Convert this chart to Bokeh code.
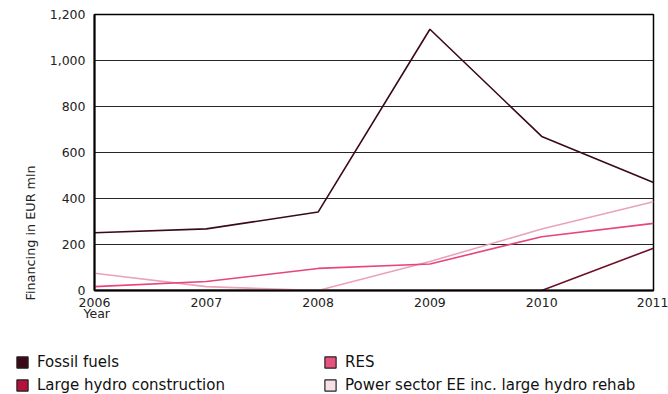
import math
from bokeh.plotting import figure
from bokeh.layouts import column, row
from bokeh.models import (ColumnDataSource, Legend, LegendItem, Title, FixedTicker,
                          NumeralTickFormatter, Range1d)
from bokeh.embed import file_html
from bokeh.resources import INLINE

years = [2006, 2007, 2008, 2009, 2010, 2011]
fossil = [251, 268, 341, 1136, 670, 470]
res = [17, 39, 96, 115, 234, 292]
large_hydro = [0, 0, 0, 0, 0, 184]
power_ee = [75, 17, 0, 126, 267, 386]

series_names = ["Fossil fuels", "RES", "Large hydro construction",
                "Power sector EE inc. large hydro rehab"]
FONT = "DejaVu Sans"

p = figure(width=668, height=330, output_backend="svg", toolbar_location=None,
           x_range=Range1d(2006, 2011), y_range=Range1d(0, 1200),
           min_border_left=94, min_border_right=15, min_border_top=14,
           min_border_bottom=40)
p.background_fill_color = "white"
p.border_fill_color = "white"
p.outline_line_color = "black"
p.outline_line_width = 1.5

src = ColumnDataSource(dict(year=years, fossil=fossil, res=res,
                            hydro=large_hydro, ee=power_ee))

p.line("year", "ee", source=src, line_color="#eba3b7", line_width=1.6)
p.line("year", "res", source=src, line_color="#e8457c", line_width=1.6)
p.line("year", "hydro", source=src, line_color="#6e1028", line_width=1.6)
p.line("year", "fossil", source=src, line_color="#3a0a18", line_width=1.6)

# axes
p.xaxis.ticker = FixedTicker(ticks=years)
p.yaxis.ticker = FixedTicker(ticks=[0, 200, 400, 600, 800, 1000, 1200])
p.yaxis.formatter = NumeralTickFormatter(format="0,0")
for ax in (p.xaxis[0], p.yaxis[0]):
    ax.axis_line_color = "black"
    ax.axis_line_width = 2
    ax.major_tick_line_color = None
    ax.minor_tick_line_color = None
    ax.major_label_text_font = FONT
    ax.major_label_text_font_size = "12.5px"
    ax.major_label_text_color = "#222222"
p.xaxis.major_label_standoff = 1
p.yaxis.major_label_standoff = 3

p.xgrid.grid_line_color = None
p.ygrid.grid_line_color = "black"
p.ygrid.grid_line_width = 1
p.ygrid.grid_line_alpha = 0.85

# axis titles
p.add_layout(Title(text="Year", align="left", offset=-11, standoff=-11,
                   text_font=FONT, text_font_size="12.5px", text_font_style="normal",
                   text_color="#222222"), "below")
p.add_layout(Title(text="Financing in EUR mln", align="left", offset=-10, standoff=18,
                   text_font=FONT, text_font_size="12.8px", text_font_style="normal",
                   text_color="#222222"), "left")

# legend figure
lf = figure(width=668, height=64, output_backend="svg", toolbar_location=None,
            x_range=Range1d(0, 1), y_range=Range1d(0, 1),
            x_axis_location=None, y_axis_location=None,
            min_border_left=0, min_border_right=0, min_border_top=0,
            min_border_bottom=0)
lf.grid.visible = False
lf.outline_line_color = None

swatch_colors = {"Fossil fuels": "#3b0a16", "RES": "#e8527f",
                 "Large hydro construction": "#b3103c",
                 "Power sector EE inc. large hydro rehab": "#f7e0e6"}
swatches = {}
for name in series_names:
    swatches[name] = lf.quad(left=[math.nan], right=[math.nan], top=[math.nan],
                             bottom=[math.nan], fill_color=swatch_colors[name],
                             line_color="#222222", line_width=1.2)

columns = [["Fossil fuels", "Large hydro construction"],
           ["RES", "Power sector EE inc. large hydro rehab"]]
offsets = [15, 323]
for names, xo in zip(columns, offsets):
    lg = Legend(items=[LegendItem(label=n, renderers=[swatches[n]]) for n in names],
                location=(xo, 0), orientation="vertical",
                glyph_width=14, glyph_height=14, label_height=14,
                label_text_font=FONT, label_text_font_size="15px",
                label_text_color="#111111", label_standoff=8,
                spacing=5, padding=0, margin=0, border_line_color=None,
                background_fill_alpha=0)
    lf.add_layout(lg, "center")

layout = column(p, row(lf, spacing=0), spacing=0)

with open("out.html", "w") as f:
    f.write(file_html(layout, INLINE))
